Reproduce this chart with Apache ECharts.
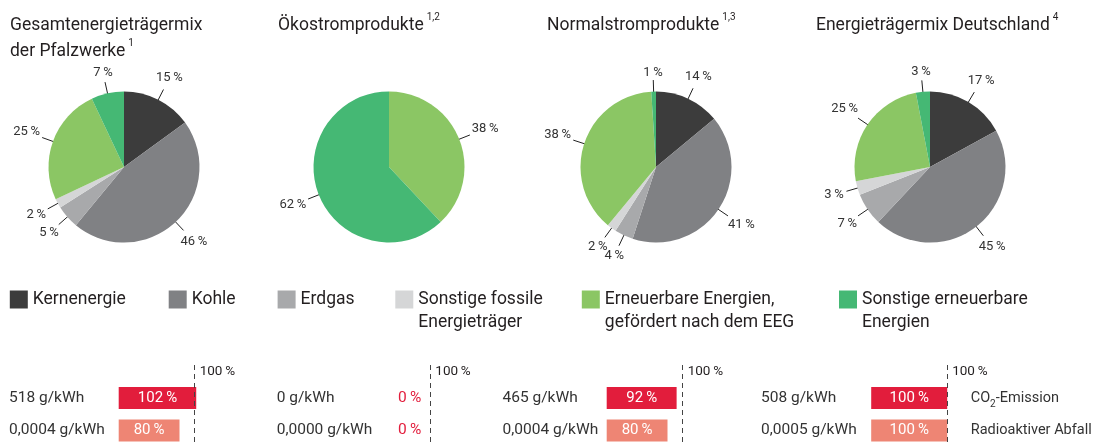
<!DOCTYPE html>
<html><head><meta charset="utf-8">
<script src="https://cdn.jsdelivr.net/npm/echarts@6/dist/echarts.min.js"></script>
<style>html,body{margin:0;padding:0;background:#fff}#c{width:1094px;height:445px}</style>
</head><body><div id="c"></div>
<script>
// ---------- DATA ----------
const categories = ['Kernenergie', 'Kohle', 'Erdgas', 'Sonstige fossile Energieträger',
  'Erneuerbare Energien, gefördert nach dem EEG', 'Sonstige erneuerbare Energien'];
const legendLabels = ['Kernenergie', 'Kohle', 'Erdgas', 'Sonstige fossile\nEnergieträger',
  'Erneuerbare Energien,\ngefördert nach dem EEG', 'Sonstige erneuerbare\nEnergien'];
const pieTitles = ['Gesamtenergieträgermix\nder Pfalzwerke', 'Ökostromprodukte', 'Normalstromprodukte', 'Energieträgermix Deutschland'];
const pieNotes = ['1', '1,2', '1,3', '4'];
const mixPfalzwerke = [15, 46, 5, 2, 25, 7];
const mixOeko = [0, 0, 0, 0, 38, 62];
const mixNormal = [14, 41, 4, 2, 38, 1];
const mixDeutschland = [17, 45, 7, 3, 25, 3];
const impactRows = ['CO2-Emission', 'Radioaktiver Abfall'];
const impactPfalzwerke = [102, 80];
const impactOeko = [0, 0];
const impactNormal = [92, 80];
const impactDeutschland = [100, 100];
const emissionPfalzwerke = ['518 g/kWh', '0,0004 g/kWh'];
const emissionOeko = ['0 g/kWh', '0,0000 g/kWh'];
const emissionNormal = ['465 g/kWh', '0,0004 g/kWh'];
const emissionDeutschland = ['508 g/kWh', '0,0005 g/kWh'];
const referenceLevel = 100;

// ---------- STYLE / LAYOUT ----------
const FONT = 'Roboto, "Liberation Sans", sans-serif';
const TXT = '#231f20';
const colors = ['#3c3c3c', '#808184', '#a8a9ab', '#d5d6d7', '#8bc664', '#45b874'];
const rowColors = ['#e21d3c', '#ee8574'];
const mixes = [mixPfalzwerke, mixOeko, mixNormal, mixDeutschland];
const impacts = [impactPfalzwerke, impactOeko, impactNormal, impactDeutschland];
const emissions = [emissionPfalzwerke, emissionOeko, emissionNormal, emissionDeutschland];
const pieCenters = [124, 389, 656, 930];
const titleLefts = [10, 278, 547, 816];
const legendLefts = [9.8, 168.7, 277.6, 395.3, 581.8, 839];
const gridLefts = [118.7, 354.3, 606.7, 871.2];
const labelMargins = [109.7, 77.6, 104.2, 110.2];
const SP = '\u2009';

const option = { animation: false, backgroundColor: '#fff', title: [], legend: [], grid: [], xAxis: [], yAxis: [], series: [] };

pieTitles.forEach((t, i) => {
  option.title.push({
    text: t + '{sup|' + pieNotes[i] + '}', left: titleLefts[i], top: 12.5, padding: 0,
    textStyle: { fontFamily: FONT, fontSize: 17.5, fontWeight: 'normal', color: TXT, lineHeight: 26,
      rich: { sup: { fontFamily: FONT, fontSize: 10, color: TXT, verticalAlign: 'top', lineHeight: 24, padding: [0, 0, 0, 3] } } }
  });
});

categories.forEach((c, i) => {
  const twoLine = legendLabels[i].indexOf('\n') >= 0;
  option.legend.push({
    data: [c], left: legendLefts[i], top: twoLine ? 264.1 : 287.7, padding: 0, itemGap: 0,
    itemWidth: 18, itemHeight: 18, icon: 'rect', selectedMode: false,
    formatter: () => (twoLine ? '\n' : '') + legendLabels[i],
    textStyle: { fontFamily: FONT, fontSize: 17.5, color: TXT, lineHeight: 23.6 }
  });
});

// pie labels: straight radial leader starting slightly inside the slice, text centred beyond it
function pieLabelLayout(p) {
  const pts = p.labelLinePoints;
  if (!pts) return {};
  const a = pts[0], b = pts[1];
  const dx = b[0] - a[0], dy = b[1] - a[1];
  const len = Math.hypot(dx, dy) || 1;
  const ux = dx / len, uy = dy / len;
  const start = [a[0] - ux * 3.5, a[1] - uy * 3.5];
  const w = p.labelRect.width, h = p.labelRect.height;
  const k = 2 + Math.abs(ux) * w / 2 + Math.abs(uy) * h / 2.4;
  return { x: b[0] + ux * k, y: b[1] + uy * k, align: 'center', verticalAlign: 'middle',
    labelLinePoints: [start, b, b] };
}

mixes.forEach((m, i) => {
  option.series.push({
    type: 'pie', center: [pieCenters[i], 167], radius: 75.5, startAngle: 90, clockwise: true,
    avoidLabelOverlap: false, minShowLabelAngle: 0, silent: true,
    data: categories.map((c, k) => ({ name: c, value: m[k], itemStyle: { color: colors[k] } })).filter(d => d.value > 0),
    label: { show: true, position: 'outside', formatter: '{c}' + SP + '%', fontFamily: FONT, fontSize: 13, color: '#333' },
    labelLine: { show: true, length: 11.5, length2: 0, lineStyle: { color: '#222', width: 1 } },
    labelLayout: pieLabelLayout,
    emphasis: { disabled: true }
  });
});

impacts.forEach((vals, g) => {
  option.grid.push({ left: gridLefts[g], top: 381.75, width: 83.6, height: 65, outerBoundsMode: 'none', containLabel: false });
  option.xAxis.push({
    gridIndex: g, type: 'value', min: 0, max: 110, interval: 100, position: 'top',
    axisLine: { show: false }, axisTick: { show: false }, splitLine: { show: false },
    axisLabel: { show: true, formatter: v => v === referenceLevel ? '100' + SP + '%' : '', align: 'left', margin: 3,
      padding: [0, 0, 0, 5], fontFamily: FONT, fontSize: 13.5, color: TXT }
  });
  option.yAxis.push({
    gridIndex: g, type: 'category', data: impactRows, inverse: true,
    axisLine: { show: false }, axisTick: { show: false }, splitLine: { show: false },
    axisLabel: { formatter: (v, k) => emissions[g][k], align: 'left', margin: labelMargins[g],
      fontFamily: FONT, fontSize: 15.5, color: '#333' }
  });
});
option.yAxis.push({
  gridIndex: 3, type: 'category', data: impactRows, inverse: true, position: 'right',
  axisLine: { show: false }, axisTick: { show: false }, splitLine: { show: false },
  axisLabel: { formatter: v => v === 'CO2-Emission' ? 'CO{sub|2}-Emission' : v, align: 'left', margin: 15.9,
    fontFamily: FONT, fontSize: 14.5, color: '#333', lineHeight: 22,
    rich: { sub: { fontFamily: FONT, fontSize: 10, color: '#333', verticalAlign: 'bottom', lineHeight: 11 } } }
});

impacts.forEach((vals, g) => {
  option.series.push({
    type: 'bar', xAxisIndex: g, yAxisIndex: g, barWidth: 22, silent: true, clip: false,
    data: vals.map((v, k) => ({ value: v, itemStyle: { color: rowColors[k] } })),
    label: { show: true, position: 'inside', formatter: p => p.value > 0 ? p.value + SP + '%' : '',
      fontFamily: FONT, fontSize: 15, color: '#fff' },
    markLine: {
      silent: true, symbol: 'none', label: { show: false },
      lineStyle: { color: '#444', width: 1, type: [5, 4] },
      data: [[{ coord: [referenceLevel, impactRows[0]], y: 365 }, { coord: [referenceLevel, impactRows[1]], y: 445 }]]
    },
    z: 2
  });
  option.series.push({
    type: 'bar', xAxisIndex: g, yAxisIndex: g, barWidth: 22, barGap: '-100%', silent: true,
    data: vals.map(() => referenceLevel),
    itemStyle: { color: 'rgba(0,0,0,0)' },
    label: { show: true, position: 'insideRight', distance: 9,
      formatter: p => vals[p.dataIndex] === 0 ? '0' + SP + '%' : '',
      fontFamily: FONT, fontSize: 15.5, color: '#e21d3c' },
    z: 1
  });
});

const chart = echarts.init(document.getElementById('c'), null, { renderer: 'canvas' });
chart.setOption(option);
</script></body></html>
